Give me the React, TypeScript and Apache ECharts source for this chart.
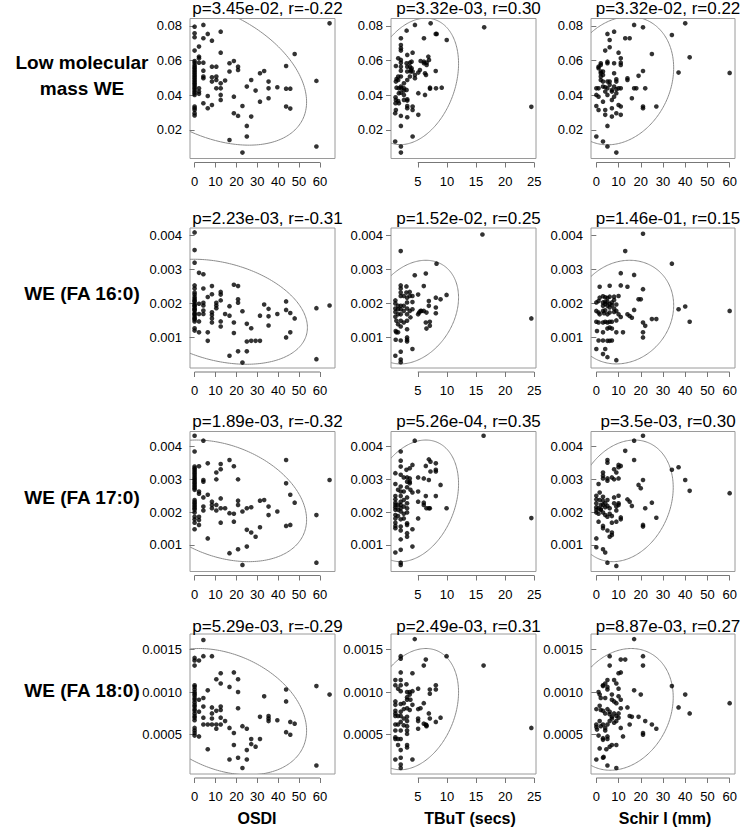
import React, { useEffect, useRef } from "react";
import * as echarts from "echarts";

const rowLabels: string[][] = [["Low molecular", "mass WE"], ["WE (FA 16:0)"], ["WE (FA 17:0)"], ["WE (FA 18:0)"]];
const colLabels = ["OSDI", "TBuT (secs)", "Schir I (mm)"];
const panelTitles = [
  ["p=3.45e-02, r=-0.22", "p=3.32e-03, r=0.30", "p=3.32e-02, r=0.22"],
  ["p=2.23e-03, r=-0.31", "p=1.52e-02, r=0.25", "p=1.46e-01, r=0.15"],
  ["p=1.89e-03, r=-0.32", "p=5.26e-04, r=0.35", "p=3.5e-03, r=0.30"],
  ["p=5.29e-03, r=-0.29", "p=2.49e-03, r=0.31", "p=8.87e-03, r=0.27"],
];
const xTicks = [[0, 10, 20, 30, 40, 50, 60], [5, 10, 15, 20, 25], [0, 10, 20, 30, 40, 50, 60]];
const xRanges = [[-2.2, 67.2], [0.4, 25.3], [-2.4, 62.4]];
const yTicks = [[0.02, 0.04, 0.06, 0.08], [0.001, 0.002, 0.003, 0.004], [0.001, 0.002, 0.003, 0.004], [0.0005, 0.001, 0.0015]];
const yRanges = [[0.0035, 0.0843], [0.0001, 0.00422], [0.00019, 0.00446], [0.00004, 0.00168]];
const yDecimals = [2, 3, 3, 4];

// ellipse parameters: [centre x, centre y, x half-width, y half-height, correlation]
const ellipses = [
  [[7.6, 0.0528, 46, 0.0416, -0.4], [4.2, 0.048, 7.8, 0.0365, 0.28], [10, 0.0484, 24.8, 0.037, 0.2]],
  [[12.3, 0.001755, 41.7, 0.001545, -0.3], [4.2, 0.001745, 7.8, 0.001525, 0.28], [12, 0.001745, 22.8, 0.001525, 0.13]],
  [[13.3, 0.002345, 40.3, 0.001855, -0.31], [4.2, 0.002345, 7.8, 0.001855, 0.28], [12.3, 0.002345, 22.3, 0.001855, 0.22]],
  [[14, 0.00077, 39.6, 0.00074, -0.3], [4.2, 0.0008, 7.8, 0.00071, 0.28], [11, 0.000797, 23.6, 0.000713, 0.2]],
];

const lmwOsdi = [
  [0, 0.0796], [0, 0.0758], [0, 0.0735], [0, 0.0658], [0, 0.0598], [0, 0.0588], [0, 0.0575], [0, 0.0565], [0, 0.0556], [0, 0.0546], [0, 0.0537], [0, 0.0527], [0, 0.0517], [0, 0.0508], [0, 0.0498], [0, 0.0488], [0, 0.0479], [0, 0.0469], [0, 0.046], [0, 0.045], [0, 0.044], [0, 0.0431], [0, 0.0421], [0, 0.0412], [0, 0.0402], [0, 0.0335], [0, 0.0325], [0, 0.0315], [0, 0.0296], [0, 0.0283],
  [2.1, 0.0681], [2.1, 0.0623], [2.1, 0.0613], [2.1, 0.0588], [2.1, 0.044], [2.1, 0.0421], [2.1, 0.0408],
  [4.2, 0.0806], [4.2, 0.0729], [4.2, 0.0588], [4.2, 0.0542], [4.2, 0.0508], [4.2, 0.0498], [4.2, 0.0354],
  [6.3, 0.0754], [6.3, 0.0396], [6.3, 0.0325],
  [8.3, 0.0715], [8.3, 0.0565], [8.3, 0.0504], [8.3, 0.0479], [8.3, 0.0344],
  [10.4, 0.0565], [10.4, 0.0508], [10.4, 0.0488], [10.4, 0.044],
  [12.5, 0.0767], [12.5, 0.0646], [12.5, 0.0469], [12.5, 0.044], [12.5, 0.0402], [12.5, 0.0373],
  [14.6, 0.0485], [16.7, 0.0585], [16.7, 0.0537], [16.7, 0.0142],
  [18.8, 0.0598], [18.8, 0.0392], [18.8, 0.0296], [20.8, 0.0565], [20.8, 0.0546], [20.8, 0.0281],
  [22.9, 0.0338], [22.9, 0.0069], [25, 0.045], [25, 0.0223], [25, 0.0162], [27.1, 0.0488], [27.1, 0.0277],
  [29.2, 0.0427], [31.3, 0.0527], [31.3, 0.0363], [33.3, 0.054], [35.4, 0.0479], [35.4, 0.044], [35.4, 0.0383],
  [39.6, 0.0446], [43.8, 0.0569], [43.8, 0.0438], [43.8, 0.0335], [45.8, 0.0438], [45.8, 0.0323], [47.9, 0.0638],
  [58.3, 0.0483], [58.3, 0.0104], [64.6, 0.0815],
];
const lmwTbut = [
  [1.24, 0.0569], [1.35, 0.0494], [1.24, 0.0479], [1.35, 0.0444], [1.18, 0.0388], [1.24, 0.0373], [1.18, 0.0354], [1.24, 0.0315], [1.12, 0.0296], [1.12, 0.0133],
  [1.64, 0.0613], [1.64, 0.0508], [1.64, 0.0488], [1.75, 0.044], [1.75, 0.0412], [1.64, 0.0367], [1.75, 0.0354],
  [2.1, 0.0729], [2.1, 0.069], [2.1, 0.0671], [2.1, 0.0658], [2.1, 0.0604], [2.1, 0.0588], [2.1, 0.0565], [2.1, 0.0542], [2.1, 0.0508], [2.1, 0.045], [2.16, 0.044], [2.1, 0.0415], [2.1, 0.0281], [2.1, 0.0223], [2.1, 0.0104], [2.1, 0.0069],
  [2.62, 0.0469], [2.62, 0.044], [2.62, 0.0427], [2.62, 0.0402], [2.62, 0.0373],
  [3.08, 0.0773], [3.19, 0.0633], [3.08, 0.0585], [3.19, 0.0565], [3.19, 0.0537], [3.19, 0.0488], [3.08, 0.0431], [3.19, 0.0377], [3.19, 0.0369], [3.19, 0.0338], [3.19, 0.0325], [3.19, 0.0273],
  [3.65, 0.0588], [3.65, 0.0565], [3.77, 0.0537], [3.65, 0.0508], [3.94, 0.0594], [3.94, 0.0556], [3.82, 0.0546],
  [4.11, 0.0646], [4.11, 0.0537], [4.11, 0.0335], [4.11, 0.0315], [4.11, 0.0162],
  [4.51, 0.0806], [4.51, 0.0517], [4.51, 0.0498], [5.09, 0.0531], [5.09, 0.0412], [5.09, 0.0287], [5.49, 0.0598], [5.37, 0.0546],
  [6.06, 0.0729], [6.06, 0.0594], [6.06, 0.0585], [6.24, 0.0527], [6.24, 0.0402], [6.52, 0.0588], [6.52, 0.0575], [6.41, 0.0517],
  [6.81, 0.0623], [6.93, 0.0604], [7.1, 0.0444], [7.1, 0.0438], [7.21, 0.0815], [8.08, 0.0754], [8.25, 0.0754], [8.08, 0.054],
  [8.13, 0.044], [9.11, 0.0444], [9.97, 0.0719], [16.4, 0.0792], [24.5, 0.0333],
];
const lmwSchir = [
  [0, 0.0162], [0, 0.0338], [0, 0.0402], [0, 0.044], [1, 0.0315], [1, 0.0565], [1, 0.044], [1, 0.0392], [1, 0.0556],
  [2, 0.0575], [2, 0.0537], [2, 0.0488], [2, 0.0508], [2, 0.0527], [2, 0.0585],
  [3, 0.0133], [3, 0.0363], [3, 0.045], [3, 0.0479], [3, 0.0517], [3, 0.0537],
  [4, 0.0658], [4, 0.0315], [4, 0.0287], [4, 0.0421], [4, 0.0446],
  [5, 0.0754], [5, 0.0479], [5, 0.044], [5, 0.0223], [5, 0.0104], [5, 0.0585], [5, 0.0594], [5, 0.0402],
  [6, 0.0719], [6, 0.0479], [6, 0.0677], [6, 0.046], [7, 0.0431], [7, 0.0373], [7, 0.0325], [7, 0.0277], [7, 0.0421],
  [8, 0.0767], [8, 0.0585], [8, 0.0527], [8, 0.0392], [8, 0.045],
  [9, 0.0492], [9, 0.0296], [9, 0.0435], [9, 0.0069], [9, 0.0479], [9, 0.0412],
  [10, 0.0646], [10, 0.044], [10, 0.0344], [11, 0.0588], [11, 0.0575], [11, 0.0613], [11, 0.0335], [11, 0.0287], [11, 0.044],
  [13, 0.0729], [14, 0.0498], [14, 0.0488], [15, 0.0729], [16, 0.0383], [17, 0.0806], [17, 0.044], [18, 0.044], [19, 0.0512],
  [21, 0.0792], [21, 0.054], [21, 0.0335], [21, 0.0325], [22, 0.044],
  [25, 0.0638], [27, 0.0335], [34, 0.0748], [37, 0.0531], [40, 0.0815], [42, 0.0619], [60, 0.0529],
];
const we16Osdi = [
  [0, 0.00409], [0, 0.00357], [0, 0.0032], [0, 0.00253], [0, 0.00244], [0, 0.00232], [0, 0.00226], [0, 0.00219], [0, 0.00214], [0, 0.00209], [0, 0.00206], [0, 0.00199], [0, 0.00195], [0, 0.00192], [0, 0.00186], [0, 0.00182], [0, 0.00179], [0, 0.00172], [0, 0.00169], [0, 0.00166], [0, 0.0016], [0, 0.00156], [0, 0.00153], [0, 0.00147], [0, 0.00127], [0, 0.0012],
  [2.1, 0.0029], [2.1, 0.00199], [2.1, 0.00169], [2.1, 0.00147], [2.1, 0.00115],
  [4.2, 0.00286], [4.2, 0.00244], [4.2, 0.00202], [4.2, 0.00194], [4.2, 0.00179], [4.2, 0.00169],
  [6.3, 0.00219], [6.3, 0.00115], [6.3, 0.0009],
  [8.3, 0.00251], [8.3, 0.00227], [8.3, 0.00174], [8.3, 0.00166], [8.3, 0.00156], [8.3, 0.00144],
  [10.4, 0.00202], [10.4, 0.00194], [10.4, 0.00186],
  [12.5, 0.00234], [12.5, 0.00226], [12.5, 0.00209], [12.5, 0.00147], [12.5, 0.00132],
  [14.6, 0.00169], [16.7, 0.00192], [16.7, 0.00164], [16.7, 0.00046], [18.8, 0.00255], [18.8, 0.00144], [18.8, 0.00113],
  [20.8, 0.00251], [20.8, 0.00212], [20.8, 0.00202], [20.8, 0.00059], [22.9, 0.00177], [22.9, 0.00026],
  [25, 0.0014], [25, 0.00088], [25, 0.00059], [27.1, 0.00127], [27.1, 0.0009], [29.2, 0.0009], [31.3, 0.0009], [31.3, 0.00164],
  [33.3, 0.00197], [35.4, 0.00184], [35.4, 0.00162], [35.4, 0.00135], [39.6, 0.00169],
  [43.8, 0.00206], [43.8, 0.00181], [43.8, 0.001], [45.8, 0.00172], [45.8, 0.00115], [47.9, 0.00156],
  [58.3, 0.00186], [58.3, 0.00036], [64.6, 0.00194],
];
const we16Tbut = [
  [1.15, 0.00046], [1.15, 0.00209], [1.15, 0.002], [1.15, 0.00185], [1.15, 0.00175], [1.15, 0.00161], [1.21, 0.00119], [1.32, 0.00115], [1.32, 0.00149], [1.21, 0.00093],
  [1.61, 0.00193], [1.61, 0.00183], [1.61, 0.00168], [1.61, 0.00139], [1.61, 0.00115],
  [2.07, 0.00354], [2.07, 0.00253], [2.07, 0.00244], [2.07, 0.00232], [2.07, 0.00222], [2.07, 0.00193], [2.07, 0.00183], [2.07, 0.00168], [2.07, 0.00149], [2.07, 0.00132], [2.07, 0.00091], [2.07, 0.00058], [2.07, 0.00035], [2.07, 0.00027],
  [2.59, 0.00222], [2.59, 0.00193], [2.59, 0.00178], [2.59, 0.00144],
  [3.05, 0.0025], [3.05, 0.00232], [3.16, 0.00217], [3.16, 0.00203], [3.16, 0.00185], [3.16, 0.00168], [3.16, 0.00149], [3.16, 0.00124], [3.16, 0.001], [3.16, 0.00093], [3.16, 0.00088],
  [3.62, 0.00234], [3.62, 0.00222], [3.62, 0.00178], [3.74, 0.00159],
  [4.08, 0.00222], [4.08, 0.00204], [4.08, 0.00183], [4.08, 0.00066], [4.48, 0.00283],
  [5.06, 0.00226], [5.06, 0.00168], [5.23, 0.00173], [5.46, 0.00178], [5.63, 0.00178],
  [6.03, 0.00178], [6.03, 0.00251], [6.38, 0.00288], [6.49, 0.00126], [6.38, 0.00144], [6.49, 0.00173],
  [6.9, 0.00207], [6.9, 0.00193], [7.07, 0.00146], [7.07, 0.00134],
  [8.1, 0.00217], [8.1, 0.00188], [8.1, 0.00171], [8.22, 0.00317], [8.91, 0.00212], [9.94, 0.00225],
  [16.1, 0.00403], [24.5, 0.00156],
];
const we16Schir = [
  [21, 0.00405], [13, 0.00354], [34, 0.00317], [11, 0.00289], [17, 0.00284], [1.5, 0.00249], [6, 0.00252], [11, 0.00253], [14, 0.00249], [21, 0.00242],
  [3, 0.00221], [4, 0.00218], [5, 0.00216], [6, 0.0022], [8, 0.0022], [10, 0.00222], [0, 0.00203], [1, 0.00207], [1.5, 0.00217],
  [3, 0.00203], [3, 0.00193], [4, 0.00205], [4, 0.00198], [5, 0.00193], [5, 0.00205], [6, 0.00198], [6, 0.00188], [7, 0.00203], [7, 0.00195], [8, 0.00185], [8, 0.0021], [9, 0.00197],
  [0, 0.00178], [1, 0.00173], [1.5, 0.00168], [3, 0.00178], [3.5, 0.00171], [4, 0.0018], [5, 0.00168], [6, 0.00173], [8, 0.00175], [9, 0.00178], [10, 0.00168], [11, 0.0016],
  [19, 0.00212], [20, 0.00212], [14, 0.00168], [15, 0.00163], [16, 0.00158], [17, 0.00181], [21, 0.00144], [22, 0.00134], [25, 0.00154], [27, 0.00154],
  [37, 0.00183], [40, 0.00191], [42, 0.00146], [60, 0.00178],
  [0, 0.00146], [1, 0.00144], [3, 0.00144], [4, 0.00146], [5, 0.00144], [6, 0.00146], [7, 0.00146], [9, 0.0015],
  [0.3, 0.00119], [3, 0.00115], [5, 0.00126], [6, 0.00129], [7, 0.00126], [9, 0.00115], [12, 0.00115], [21, 0.00115], [21, 0.001],
  [1, 0.00091], [3, 0.00091], [5, 0.0009], [6, 0.0009], [7, 0.00091], [0, 0.00066], [4, 0.00066], [3, 0.00051], [5, 0.00042], [9, 0.00033],
];
const we17Osdi = [
  [0, 0.00433], [0, 0.00385], [0, 0.00339], [0, 0.00334], [0, 0.00329], [0, 0.00324], [0, 0.00319], [0, 0.00313], [0, 0.00308], [0, 0.00303], [0, 0.00298], [0, 0.00293], [0, 0.00288], [0, 0.00283], [0, 0.00278], [0, 0.00273], [0, 0.00268], [0, 0.00237], [0, 0.00232], [0, 0.00227], [0, 0.00222], [0, 0.00217], [0, 0.00212], [0, 0.00207], [0, 0.00199], [0, 0.00186], [0, 0.00178], [0, 0.00168], [0, 0.00148],
  [2.1, 0.0034], [2.1, 0.00263], [2.1, 0.00256], [2.1, 0.00186], [2.1, 0.00176], [2.1, 0.00161],
  [4.2, 0.00418], [4.2, 0.00298], [4.2, 0.00293], [4.2, 0.00245], [4.2, 0.00217], [4.2, 0.00205],
  [6.3, 0.00349], [6.3, 0.00253], [6.3, 0.0012], [8.3, 0.00232], [8.3, 0.00222], [8.3, 0.00212],
  [10.4, 0.00321], [10.4, 0.003], [10.4, 0.00222], [10.4, 0.00205],
  [12.5, 0.00347], [12.5, 0.00331], [12.5, 0.00242], [12.5, 0.00212], [12.5, 0.00168], [14.6, 0.00212],
  [16.7, 0.00359], [16.7, 0.00197], [16.7, 0.00075], [18.8, 0.0034], [18.8, 0.00195], [18.8, 0.00171],
  [20.8, 0.003], [20.8, 0.00235], [20.8, 0.00222], [20.8, 0.00087], [22.9, 0.00202], [22.9, 0.00039],
  [25, 0.00212], [25, 0.00146], [25, 0.00095], [27.1, 0.00215], [27.1, 0.00138], [29.2, 0.00125],
  [31.3, 0.00235], [31.3, 0.00154], [33.3, 0.00237], [35.4, 0.00217], [35.4, 0.00191], [39.6, 0.00202],
  [43.8, 0.00359], [43.8, 0.00288], [43.8, 0.00158], [45.8, 0.00253], [45.8, 0.00161], [47.9, 0.00229],
  [58.3, 0.00191], [58.3, 0.00046], [64.6, 0.00298],
];
const we17Tbut = [
  [1.15, 0.00319], [1.15, 0.00286], [1.15, 0.00249], [1.15, 0.00239], [1.15, 0.00229], [1.15, 0.00222], [1.15, 0.00215], [1.15, 0.00207], [1.15, 0.00191], [1.15, 0.00181], [1.15, 0.00168], [1.15, 0.00158], [1.15, 0.00151], [1.15, 0.00077],
  [1.61, 0.00268], [1.61, 0.00222], [1.61, 0.00207], [1.61, 0.00188],
  [2.07, 0.00385], [2.07, 0.00357], [2.07, 0.00339], [2.07, 0.00314], [2.07, 0.00278], [2.07, 0.00263], [2.07, 0.00249], [2.07, 0.00232], [2.07, 0.00222], [2.07, 0.00212], [2.07, 0.00202], [2.07, 0.00178], [2.07, 0.00156], [2.07, 0.00144], [2.07, 0.00117], [2.07, 0.00085], [2.07, 0.00046], [2.07, 0.00039],
  [2.59, 0.00306], [2.59, 0.00263], [2.59, 0.00237], [2.59, 0.00217], [2.59, 0.00195], [2.59, 0.00181],
  [3.05, 0.00329], [3.16, 0.00306], [3.16, 0.00293], [3.16, 0.00276], [3.16, 0.00245], [3.16, 0.00227], [3.16, 0.00212], [3.16, 0.00199], [3.16, 0.00166], [3.16, 0.00161], [3.16, 0.00136], [3.16, 0.00125],
  [3.62, 0.00334], [3.62, 0.00303], [3.62, 0.00293], [3.62, 0.00288], [3.74, 0.00268],
  [4.08, 0.00344], [4.08, 0.0026], [4.08, 0.00148], [4.08, 0.00095], [4.48, 0.00418],
  [5.06, 0.00306], [5.06, 0.00263], [5.06, 0.00232], [5.06, 0.00181], [6.03, 0.00303], [6.03, 0.00229], [6.03, 0.00222],
  [6.38, 0.00341], [6.38, 0.00249], [6.49, 0.00212], [6.9, 0.00361], [6.9, 0.00298], [6.9, 0.00212],
  [7.18, 0.00354], [7.18, 0.00324], [7.07, 0.00212], [8.1, 0.00349], [8.1, 0.00329], [8.1, 0.00324], [8.1, 0.00249],
  [8.91, 0.00283], [9.94, 0.00212], [16.3, 0.00433], [24.5, 0.00182],
];
const we17Schir = [
  [21, 0.00433], [17, 0.00418], [13, 0.00387], [17, 0.00359], [5, 0.00359], [5, 0.00351], [10, 0.00344], [11, 0.00341], [10, 0.00337], [8, 0.00331], [9, 0.00321], [10, 0.00303],
  [3, 0.00321], [3, 0.00311], [3, 0.00303], [5, 0.00303], [5, 0.00296], [7, 0.00306], [8, 0.003], [1, 0.00286], [21, 0.00298], [19, 0.00283], [20, 0.00273],
  [34, 0.00329], [37, 0.00337], [40, 0.00298], [42, 0.00265], [60, 0.00258],
  [0, 0.0025], [0, 0.00239], [0, 0.00227], [0, 0.00215], [1, 0.00212], [1.5, 0.0026], [1.5, 0.00237], [2, 0.00222], [2, 0.00209], [3, 0.00247], [3, 0.00235], [3, 0.00222],
  [4, 0.00215], [4, 0.00227], [5, 0.00237], [5, 0.00219], [6, 0.00212], [6, 0.00195], [7, 0.00188], [8, 0.00245], [8, 0.00227], [9, 0.00217], [9, 0.00205],
  [10, 0.0025], [10, 0.00227], [10, 0.00222], [11, 0.00184], [11, 0.00178],
  [0, 0.00207], [0, 0.00199], [1, 0.00195], [2, 0.00207], [3, 0.00199], [4, 0.00191], [5, 0.00186],
  [1, 0.00171], [3, 0.00158], [3, 0.00151], [5, 0.00144], [7, 0.00168], [7, 0.00138], [7, 0.0013], [6, 0.00125], [9, 0.00171],
  [14, 0.00239], [15, 0.00232], [16, 0.00219], [22, 0.00212], [21, 0.00161], [21, 0.00156], [25, 0.00229], [27, 0.00183],
  [0, 0.0012], [0, 0.00093], [3, 0.00087], [4, 0.00077], [5, 0.00046], [9, 0.00036],
];
const we18Osdi = [
  [0, 0.0014], [0, 0.00137], [0, 0.00131], [0, 0.00108], [0, 0.00106], [0, 0.00103], [0, 0.001], [0, 0.00098], [0, 0.00096], [0, 0.00093], [0, 0.00091], [0, 0.00088], [0, 0.00085], [0, 0.00083], [0, 0.0008], [0, 0.00078], [0, 0.00075], [0, 0.00072], [0, 0.0007], [0, 0.00067], [0, 0.00058], [0, 0.00055], [0, 0.00052], [0, 0.00049],
  [2.1, 0.00137], [2.1, 0.00091], [2.1, 0.00077], [2.1, 0.00048],
  [4.2, 0.00161], [4.2, 0.00142], [4.2, 0.00093], [4.2, 0.00083], [4.2, 0.0007], [4.2, 0.00062],
  [6.3, 0.00102], [6.3, 0.00062], [6.3, 0.00033],
  [8.3, 0.00142], [8.3, 0.00082], [8.3, 0.00075], [8.3, 0.00069], [8.3, 0.00062],
  [10.4, 0.00115], [10.4, 0.00078], [10.4, 0.00062], [10.4, 0.00057],
  [12.5, 0.00122], [12.5, 0.0011], [12.5, 0.00083], [12.5, 0.00079], [12.5, 0.0007], [12.5, 0.00062], [14.6, 0.00066],
  [16.7, 0.00106], [16.7, 0.00058], [16.7, 0.00021], [18.8, 0.00123], [18.8, 0.00052], [18.8, 0.00038],
  [20.8, 0.00115], [20.8, 0.001], [20.8, 0.00081], [20.8, 0.00023], [22.9, 0.0006], [22.9, 0.00011],
  [25, 0.00057], [25, 0.00032], [25, 0.00021], [27.1, 0.00045], [27.1, 0.00039], [29.2, 0.00036],
  [31.3, 0.00071], [31.3, 0.00045], [33.3, 0.00095], [35.4, 0.00072], [35.4, 0.00069], [35.4, 0.00066], [39.6, 0.00067],
  [43.8, 0.00103], [43.8, 0.00089], [43.8, 0.00053], [45.8, 0.00065], [45.8, 0.0005], [47.9, 0.00063],
  [58.3, 0.00107], [58.3, 0.00014], [64.6, 0.00097],
];
const we18Tbut = [
  [1.15, 0.00114], [1.15, 0.00108], [1.15, 0.00089], [1.15, 0.00085], [1.15, 0.00078], [1.15, 0.00075], [1.15, 0.00072], [1.15, 0.00062], [1.15, 0.00055], [1.15, 0.00047], [1.15, 0.00045], [1.15, 0.00021],
  [1.61, 0.00104], [1.61, 0.00072], [1.61, 0.00062], [1.61, 0.00045], [1.61, 0.00038],
  [2.07, 0.00142], [2.07, 0.00139], [2.07, 0.00123], [2.07, 0.00114], [2.07, 0.00108], [2.07, 0.00101], [2.07, 0.00086], [2.07, 0.00077], [2.07, 0.00072], [2.07, 0.00065], [2.07, 0.00055], [2.07, 0.00045], [2.07, 0.00032], [2.07, 0.00023], [2.07, 0.00015], [2.07, 0.00011],
  [2.59, 0.00087], [2.59, 0.0008], [2.59, 0.00069], [2.59, 0.00061],
  [3.05, 0.00109], [3.16, 0.001], [3.16, 0.00094], [3.16, 0.00091], [3.16, 0.00081], [3.16, 0.00071], [3.16, 0.00066], [3.16, 0.0006], [3.16, 0.00055], [3.16, 0.00051], [3.16, 0.00038], [3.16, 0.00035],
  [3.62, 0.001], [3.62, 0.00097], [3.74, 0.00091], [3.62, 0.00079],
  [4.08, 0.00122], [4.08, 0.00101], [4.08, 0.00085], [4.08, 0.00021], [4.48, 0.00162],
  [5.06, 0.00104], [5.06, 0.0008], [5.06, 0.00069], [5.06, 0.00066], [5.06, 0.00057], [5.46, 0.00081],
  [6.03, 0.00131], [6.03, 0.00087], [6.03, 0.00063], [6.38, 0.00138], [6.49, 0.00061], [6.38, 0.00062], [6.49, 0.0006],
  [6.9, 0.00075], [7.07, 0.00098], [7.07, 0.00103], [7.07, 0.00069], [8.1, 0.00108], [8.1, 0.00103], [8.1, 0.00065],
  [8.91, 0.0007], [9.94, 0.00142], [16.3, 0.00131], [24.5, 0.00058],
];
const we18Schir = [
  [17, 0.00162], [6, 0.00142], [11, 0.00138], [13, 0.00138], [21, 0.00142], [21, 0.00131], [6, 0.00131], [10, 0.00122], [11, 0.00123], [5, 0.00114], [4, 0.0011], [8, 0.00114], [9, 0.0011], [10, 0.00104],
  [3, 0.00108], [3, 0.00107], [5, 0.00103], [5, 0.00106], [17, 0.00102], [20, 0.00097], [34, 0.00107], [40, 0.00097], [37, 0.00082], [42, 0.00075], [60, 0.00087],
  [1, 0.001], [1.5, 0.00097], [2, 0.00093], [4, 0.00093], [7, 0.00097], [7, 0.00091], [8, 0.00089], [9, 0.00087], [10, 0.00095], [11, 0.00091], [11, 0.00081],
  [0, 0.0008], [1.5, 0.00084], [2, 0.00079], [3, 0.00078], [4, 0.00075], [5, 0.0008], [6, 0.00077], [6, 0.00074], [7, 0.00071], [8, 0.00075], [9, 0.00072], [10, 0.0007], [10, 0.00075],
  [14, 0.00082], [15, 0.00072], [16, 0.00071], [19, 0.00071], [22, 0.00066], [25, 0.00062], [27, 0.00057],
  [0, 0.00062], [0, 0.00059], [0.3, 0.00056], [1.5, 0.00066], [2, 0.0006], [3, 0.00062], [4, 0.00058], [5, 0.00062], [6, 0.00066], [7, 0.00069], [8, 0.00064], [9, 0.00066], [11, 0.00058], [15, 0.00062], [21, 0.00052], [21, 0.0005],
  [1, 0.00049], [3, 0.00046], [3, 0.00044], [4, 0.00055], [5, 0.00048], [5, 0.00045], [12, 0.00048],
  [1.5, 0.00034], [4.5, 0.00033], [6, 0.00036], [7, 0.00038], [9, 0.00038],
  [0, 0.00021], [3, 0.00023], [3.3, 0.00024], [5, 0.00014], [9, 0.00011],
];

const panels = [
  [lmwOsdi, lmwTbut, lmwSchir],
  [we16Osdi, we16Tbut, we16Schir],
  [we17Osdi, we17Tbut, we17Schir],
  [we18Osdi, we18Tbut, we18Schir],
];

// layout (pixels)
const colLeft = [190, 391, 591];
const colWidth = [145, 145, 144];
const rowTop = [18.5, 228, 431.5, 634];
const rowHeight = 140;
const titleDy = [-10, -10, -10, -8];
const rowLabelY = [[62, 88], [293], [497], [690]];
const colLabelX = [257, 470, 665];
const FONT = '"Liberation Sans", Arial, Helvetica, sans-serif';

export default function App() {
  const ref = useRef<HTMLDivElement>(null);
  useEffect(() => {
    document.body.style.margin = "0";
    if (!ref.current) return;
    const chart = echarts.init(ref.current, undefined, { renderer: "svg" });
    const grid: any[] = [];
    const xAxis: any[] = [];
    const yAxis: any[] = [];
    const series: any[] = [];
    const graphic: any[] = [];
    let idx = 0;
    for (let r = 0; r < 4; r++) {
      for (let c = 0; c < 3; c++) {
        grid.push({
          left: colLeft[c], top: rowTop[r], width: colWidth[c], height: rowHeight,
          show: true, borderColor: "#9a9a9a", borderWidth: 1, backgroundColor: "transparent",
        });
        xAxis.push({
          gridIndex: idx, type: "value", min: xRanges[c][0], max: xRanges[c][1], offset: 4,
          axisLine: { show: false },
          axisTick: { show: true, length: 5, customValues: xTicks[c], lineStyle: { color: "#777" } },
          axisLabel: { customValues: xTicks[c], fontSize: 13, color: "#000", margin: 12, fontFamily: FONT },
          splitLine: { show: false },
        });
        const dec = yDecimals[r];
        yAxis.push({
          gridIndex: idx, type: "value", min: yRanges[r][0], max: yRanges[r][1],
          axisLine: { show: false },
          axisTick: { show: true, length: 5, customValues: yTicks[r], lineStyle: { color: "#777" } },
          axisLabel: {
            customValues: yTicks[r], fontSize: 13, color: "#000", margin: 8, fontFamily: FONT,
            formatter: (v: number) => v.toFixed(dec),
          },
          splitLine: { show: false },
        });
        const ell = ellipses[r][c];
        series.push({
          type: "custom", xAxisIndex: idx, yAxisIndex: idx, silent: true, clip: true,
          data: [[ell[0], ell[1]]],
          renderItem: (params: any, api: any) => {
            const [cx, cy, a, b, rho] = ell;
            const s = Math.sqrt(1 - rho * rho);
            const pts: number[][] = [];
            for (let k = 0; k <= 240; k++) {
              const t = (k / 240) * 2 * Math.PI;
              pts.push(api.coord([cx + a * Math.cos(t), cy + b * (rho * Math.cos(t) + s * Math.sin(t))]));
            }
            const cs = params.coordSys;
            return {
              type: "polyline",
              shape: { points: pts },
              style: { stroke: "#8c8c8c", lineWidth: 1, fill: null },
              clipPath: { type: "rect", shape: { x: cs.x, y: cs.y, width: cs.width, height: cs.height } },
            };
          },
        });
        series.push({
          type: "scatter", xAxisIndex: idx, yAxisIndex: idx, silent: true,
          data: panels[r][c], symbol: "circle", symbolSize: 4.6,
          itemStyle: { color: "#000" },
        });
        graphic.push({
          type: "text", x: colLeft[c] + colWidth[c] / 2 + 5, y: rowTop[r] + titleDy[r],
          style: {
            text: panelTitles[r][c], font: `17px ${FONT}`, fill: "#000",
            textAlign: "center", textVerticalAlign: "middle", align: "center", verticalAlign: "middle",
          },
        });
        idx++;
      }
      rowLabels[r].forEach((t, k) => {
        graphic.push({
          type: "text", x: 82, y: rowLabelY[r][k],
          style: {
            text: t, font: `bold 19px ${FONT}`, fill: "#000",
            textAlign: "center", textVerticalAlign: "middle", align: "center", verticalAlign: "middle",
          },
        });
      });
    }
    colLabels.forEach((t, c) => {
      graphic.push({
        type: "text", x: colLabelX[c], y: 818,
        style: {
          text: t, font: `bold 16px ${FONT}`, fill: "#000",
          textAlign: "center", textVerticalAlign: "middle", align: "center", verticalAlign: "middle",
        },
      });
    });
    chart.setOption({ animation: false, grid, xAxis, yAxis, series, graphic });

    // R-style x axis lines spanning first to last tick
    const axisLines: any[] = [];
    idx = 0;
    for (let r = 0; r < 4; r++) {
      for (let c = 0; c < 3; c++) {
        const ticks = xTicks[c];
        const x0 = chart.convertToPixel({ xAxisIndex: idx } as any, ticks[0]) as number;
        const x1 = chart.convertToPixel({ xAxisIndex: idx } as any, ticks[ticks.length - 1]) as number;
        const yb = (chart.convertToPixel({ yAxisIndex: idx } as any, yRanges[r][0]) as number) + 4;
        axisLines.push({ type: "line", shape: { x1: x0, y1: yb, x2: x1, y2: yb }, style: { stroke: "#777", lineWidth: 1 } });
        idx++;
      }
    }
    chart.setOption({ graphic: [...graphic, ...axisLines] });
    return () => chart.dispose();
  }, []);
  return <div ref={ref} style={{ width: 746, height: 830 }} />;
}
